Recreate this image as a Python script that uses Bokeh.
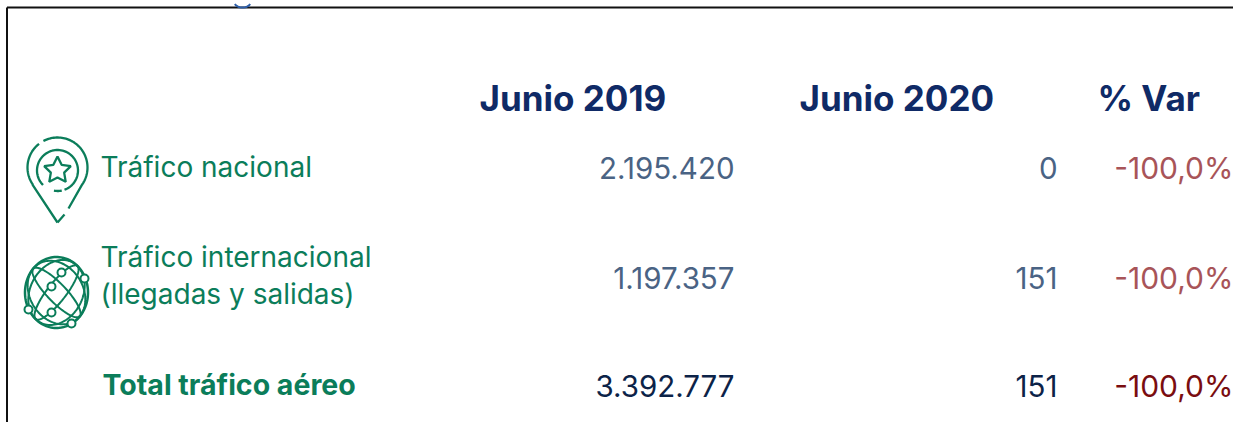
import numpy as np
from bokeh.plotting import figure
from bokeh.embed import file_html
from bokeh.resources import INLINE
from bokeh.core.properties import value

# Table content
columns = ["Junio 2019", "Junio 2020", "% Var"]
row_labels = [["Tráfico nacional"], ["Tráfico internacional", "(llegadas y salidas)"], ["Total tráfico aéreo"]]
junio_2019 = ["2.195.420", "1.197.357", "3.392.777"]
junio_2020 = ["0", "151", "151"]
pct_var = ["-100,0%", "-100,0%", "-100,0%"]

FONT = "Inter"
NAVY = "#0f2a66"; GREEN = "#0b7d5a"; VAL = "#4a6384"; VALB = "#0c2348"; RED = "#a85458"; REDB = "#7a0d10"

p = figure(width=1233, height=422, x_range=(0, 1233), y_range=(422, 0),
           toolbar_location=None, output_backend="svg", min_border=0,
           outline_line_color=None, background_fill_color="white")
p.axis.visible = False
p.grid.visible = False

def t(x, y, s, color, size, align="left", bold=False):
    p.text([x], [y], text=[s], text_color=color, text_font=value(FONT), text_font_size=f"{size}px",
           text_align=align, text_baseline="alphabetic", text_font_style="bold" if bold else "normal")

# frame
p.line([6.5, 6.5], [422, 7], line_color="#111111", line_width=2)
p.line([6.5, 1233], [7, 7], line_color="#111111", line_width=2)
th = np.linspace(0.3, np.pi - 0.3, 12)
p.line(242 + 8 * np.cos(th), 2 + 5 * np.sin(th), line_color="#2f5fa8", line_width=2)

# headers
t(479, 97, columns[0], NAVY, 35, bold=True)
t(799, 97, columns[1], NAVY, 35, bold=True)
t(1097, 97, columns[2], NAVY, 35, bold=True)

# row labels
t(100, 166, row_labels[0][0], GREEN, 28)
t(100, 256, row_labels[1][0], GREEN, 28)
t(100, 293, row_labels[1][1], GREEN, 28)
t(102, 384, row_labels[2][0], GREEN, 28.5, bold=True)

# values
ys = [167, 277, 385]
for i, y in enumerate(ys):
    b = i == 2
    t(734, y, junio_2019[i], VALB if b else VAL, 29.5, "right")
    t(1057, y, junio_2020[i], VALB if b else VAL, 29.5, "right")
    t(1233, y, pct_var[i], REDB if b else RED, 30, "right")

# pin icon
LW = 2.3
cx, cy = 57, 167
a = np.radians(np.linspace(-118, 36, 60))
p.line(list(cx + 30 * np.cos(a)) + [68], list(cy + 30 * np.sin(a)) + [208], line_color=GREEN, line_width=LW)
a = np.radians(np.linspace(144, 232, 40))
p.line([57, 32.3] + list((cx + 30 * np.cos(a))[1:]), [222, 184.6] + list((cy + 30 * np.sin(a))[1:]), line_color=GREEN, line_width=LW)
p.line([57, 64], [222, 214], line_color=GREEN, line_width=LW)
a = np.radians(np.linspace(-225, 70, 70))
p.line(cx + 20.5 * np.cos(a), 170 + 20.5 * np.sin(a), line_color=GREEN, line_width=LW)
a = np.radians(np.linspace(78, 100, 8))
p.line(cx + 20.5 * np.cos(a), 170 + 20.5 * np.sin(a), line_color=GREEN, line_width=LW)
ang = -np.pi / 2 + np.arange(11) * np.pi / 5
rad = np.where(np.arange(11) % 2 == 0, 14, 7)
p.line(cx + rad * np.cos(ang), 170 + rad * np.sin(ang), line_color=GREEN, line_width=LW)

# globe icon
gx, gy, rx, ry = 56, 292, 31.5, 35.5
a = np.linspace(0, 2 * np.pi, 120)
p.line(gx + rx * np.cos(a), gy + ry * np.sin(a), line_color=GREEN, line_width=2.5)
xs, ys_ = [], []
for rot in np.radians([42, -48]):
    for k in (0.28, 0.8):
        u, v = k * np.cos(a), np.sin(a)
        xs.append(list(gx + rx * (u * np.cos(rot) - v * np.sin(rot))))
        ys_.append(list(gy + ry * (u * np.sin(rot) + v * np.cos(rot))))
p.multi_line(xs, ys_, line_color=GREEN, line_width=2)
nx = [61, 84, 51, 28, 51, 71]
ny = [272, 278, 286, 309, 312, 323]
p.scatter(nx, ny, size=8, marker="circle", fill_color="white", line_color=GREEN, line_width=2)

open("out.html", "w").write(file_html(p, INLINE))
